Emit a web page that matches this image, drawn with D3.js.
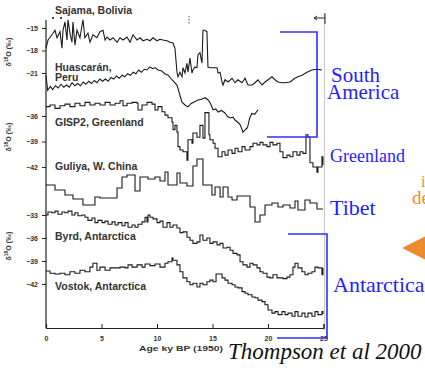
<!DOCTYPE html>
<html>
<head>
<meta charset="utf-8">
<script src="https://cdn.jsdelivr.net/npm/d3@7"></script>
<style>
  body { margin: 0; background: #fff; }
  svg { display: block; }
  .tick text { font-family: "Liberation Sans", Arial, sans-serif; font-weight: bold; font-size: 7px; fill: #333; }
  .lbl { font-family: "Liberation Sans", Arial, sans-serif; font-weight: bold; font-size: 10.5px; fill: #333; }
  .note { font-family: "Liberation Serif", "Times New Roman", serif; fill: #1f1fff; }
</style>
</head>
<body>
<script>
// age (ky BP) / d18O (permil) pairs
var sajama = [[0,-17.7],[0.18,-16.6],[0.54,-15.9],[0.81,-15.3],[0.99,-16.3],[1.26,-15.5],[1.44,-17.7],[1.53,-15.3],
  [1.71,-14.2],[1.89,-16.6],[1.98,-13.9],[2.16,-15.7],[2.34,-16.9],[2.43,-14.2],[2.61,-17.3],[2.79,-15.3],[3.06,-16.3],
  [3.33,-13.9],[3.51,-16.3],[3.78,-15.7],[3.96,-16.9],[4.23,-15.9],[4.59,-16.3],[4.86,-15.5],[5.14,-15.3],[5.32,-16.6],
  [5.5,-16.2],[5.77,-16.6],[6.04,-16.3],[6.4,-16.9],[6.67,-16.3],[6.94,-16.6],[7.3,-16.2],[7.57,-16.9],[7.84,-15.9],
  [8.2,-16.6],[8.47,-16.3],[8.74,-16.7],[9.1,-16.5],[9.37,-16.7],[9.64,-16.3],[10.0,-16.7],[10.27,-16.5],[10.54,-16.6],
  [10.9,-16.7],[11.17,-16.9],[11.44,-17.0],[11.62,-17.7],[11.8,-20.9],[11.89,-21.5],[12.07,-20.9],[12.25,-21.5],
  [12.34,-20.3],[12.52,-21.0],[12.7,-19.7],[12.79,-20.9],[12.97,-19.0],[13.15,-21.0],[13.24,-20.6],[13.42,-20.2],
  [13.6,-20.3],[13.69,-18.6],[13.87,-18.3],[14.05,-19.7],[14.14,-15.3],[14.32,-15.3],[14.5,-15.5],[14.59,-20.2],
  [14.77,-20.3],[15.05,-20.3],[15.41,-20.3],[15.5,-21.0],[15.68,-20.9],[15.86,-22.2],[15.95,-22.6],[16.13,-21.9],
  [16.4,-22.2],[16.76,-21.7],[17.03,-22.3],[17.3,-21.9],[17.66,-22.3],[17.93,-21.7],[18.2,-22.6],[18.56,-22.6],
  [18.83,-22.3],[19.1,-21.9],[19.46,-22.6],[19.73,-22.2],[20.0,-21.9],[20.36,-21.5],[20.63,-21.9],[20.9,-22.2],
  [21.26,-22.3],[21.53,-22.3],[21.98,-22.2],[22.43,-21.7],[22.7,-21.5],[23.06,-21.3],[23.51,-20.9],[23.96,-20.6],
  [24.41,-20.5],[24.86,-20.6]];

var huascaran = [[0,-21.3],[0.15,-23.3],[0.4,-22.8],[0.6,-23.2],[0.85,-22.7],[1.1,-23.0],[1.35,-22.5],[1.6,-22.9],
  [1.85,-22.6],[2.1,-22.9],[2.35,-22.3],[2.6,-22.7],[2.85,-22.4],[3.1,-22.7],[3.35,-22.2],[3.6,-22.5],[3.85,-22.1],
  [4.1,-22.4],[4.35,-22.0],[4.6,-22.3],[4.85,-21.8],[5.1,-22.1],[5.35,-21.8],[5.6,-22.1],[5.85,-21.6],[6.1,-21.8],
  [6.35,-21.4],[6.6,-21.7],[6.85,-21.3],[7.1,-21.5],[7.35,-21.1],[7.6,-21.3],[7.85,-20.9],[8.1,-21.1],[8.35,-20.6],
  [8.6,-20.9],[8.85,-20.5],[9.1,-20.6],[9.35,-20.2],[9.6,-20.4],[9.85,-20.3],[10.1,-20.6],[10.4,-20.7],[10.7,-21.1],
  [11.0,-21.3],[11.35,-21.9],[11.8,-22.6],[12.25,-24.9],[12.55,-25.3],[12.8,-25.5],[13.05,-25.1],[13.3,-24.9],
  [13.7,-24.6],[14.0,-24.5],[14.35,-24.3],[14.6,-24.6],[14.8,-25.0],[15.05,-25.9],[15.3,-25.8],[15.5,-26.2],
  [15.8,-26.0],[16.1,-26.3],[16.35,-26.8],[16.6,-27.0],[16.85,-26.9],[17.05,-27.3],[17.3,-27.6],[17.5,-27.9],
  [17.75,-28.9],[18.0,-28.5],[18.15,-28.3],[18.35,-27.0],[18.55,-26.4],[18.8,-26.5],[19.1,-25.9]];

var gisp2 = [[0,-34.9],[0.36,-34.7],[0.81,-35.1],[1.26,-34.8],[1.71,-34.6],[2.16,-34.9],[2.61,-34.5],[3.06,-34.8],
  [3.51,-34.4],[3.96,-34.7],[4.41,-34.5],[4.86,-34.7],[5.32,-34.4],[5.77,-34.7],[6.22,-34.5],[6.67,-34.2],[6.94,-34.8],
  [7.3,-34.5],[7.75,-34.4],[8.2,-34.5],[8.29,-35.3],[8.65,-34.7],[9.1,-34.4],[9.55,-34.6],[9.82,-35.3],[10.09,-34.9],
  [10.45,-35.5],[10.72,-35.9],[10.99,-36.2],[11.35,-36.7],[11.44,-37.6],[11.62,-37.1],[11.8,-37.9],[11.89,-39.6],
  [12.07,-40.0],[12.34,-40.2],[12.7,-41.2],[12.79,-38.8],[13.15,-39.2],[13.24,-38.0],[13.6,-38.5],[13.87,-37.1],
  [14.14,-38.6],[14.32,-35.6],[14.5,-35.6],[14.68,-38.2],[14.77,-38.8],[15.05,-39.2],[15.23,-39.8],[15.5,-40.8],
  [15.86,-40.2],[16.13,-40.6],[16.4,-40.0],[16.76,-40.4],[17.03,-39.8],[17.3,-40.2],[17.66,-39.6],[17.93,-40.0],
  [18.38,-39.6],[18.65,-39.2],[19.01,-39.4],[19.28,-39.1],[19.55,-39.4],[19.91,-39.6],[20.18,-39.1],[20.45,-39.4],
  [20.81,-39.2],[21.08,-40.2],[21.35,-40.9],[21.71,-40.6],[21.98,-40.8],[22.25,-40.2],[22.61,-40.6],[22.88,-40.2],
  [23.15,-40.4],[23.42,-38.2],[23.6,-38.5],[23.78,-41.5],[24.05,-42.0],[24.41,-42.6],[24.5,-42.0],[24.86,-40.8],
  [24.95,-41.8]];

var guliya = [[0,-13.0],[0.81,-13.5],[1.71,-14.0],[2.43,-14.4],[3.33,-15.0],[4.41,-14.2],[4.86,-14.3],[6.4,-13.3],
  [6.85,-12.2],[7.3,-12.0],[8.02,-13.6],[8.47,-12.2],[9.19,-12.4],[9.82,-12.2],[10.27,-12.6],[10.72,-11.7],
  [10.99,-13.0],[11.8,-11.8],[12.07,-12.8],[12.7,-13.1],[13.24,-11.1],[13.6,-10.4],[14.14,-13.0],[14.95,-14.0],
  [15.23,-13.2],[15.68,-14.2],[15.95,-13.2],[16.4,-14.2],[16.76,-14.5],[17.21,-14.1],[18.38,-15.2],[18.83,-16.7],
  [19.28,-16.0],[19.73,-15.0],[20.36,-14.8],[20.9,-15.2],[21.35,-15.0],[21.98,-15.3],[22.43,-14.6],[22.7,-15.5],
  [23.33,-14.5],[23.78,-14.8],[24.41,-15.4],[24.95,-15.4]];

var byrd = [[0,-33.0],[0.18,-32.6],[0.54,-32.7],[0.81,-32.5],[1.08,-32.9],[1.44,-32.6],[1.71,-32.7],[1.98,-32.5],
  [2.34,-33.0],[2.61,-32.7],[2.88,-33.1],[3.24,-33.0],[3.51,-33.3],[3.78,-33.7],[4.14,-33.4],[4.41,-34.0],[4.68,-33.7],
  [5.05,-34.0],[5.32,-33.8],[5.59,-34.2],[5.95,-33.9],[6.22,-34.3],[6.49,-34.0],[6.85,-34.4],[7.12,-34.0],[7.39,-34.6],
  [7.75,-34.3],[8.02,-34.6],[8.29,-34.2],[8.65,-33.9],[8.92,-33.3],[9.1,-33.9],[9.19,-33.0],[9.37,-33.3],[9.64,-33.5],
  [10.0,-34.0],[10.27,-33.8],[10.54,-34.6],[10.9,-34.0],[11.17,-34.6],[11.44,-34.3],[11.8,-34.7],[12.07,-35.3],
  [12.34,-35.2],[12.7,-35.9],[12.97,-36.3],[13.24,-36.7],[13.6,-36.5],[13.87,-35.6],[14.14,-36.3],[14.5,-36.0],
  [14.77,-36.7],[15.05,-36.5],[15.41,-36.9],[15.68,-36.7],[15.95,-37.3],[16.31,-37.2],[16.58,-37.6],[16.85,-38.0],
  [17.21,-38.2],[17.48,-39.1],[17.75,-39.5],[18.11,-39.8],[18.38,-39.3],[18.65,-39.5],[19.01,-39.9],[19.28,-40.4],
  [19.55,-40.6],[19.91,-41.1],[20.18,-41.2],[20.45,-40.8],[20.81,-41.2],[21.08,-41.2],[21.35,-41.3],[21.71,-41.1],
  [21.98,-40.8],[22.25,-39.8],[22.43,-39.3],[22.7,-39.9],[23.06,-40.4],[23.33,-40.8],[23.6,-40.6],[23.96,-40.4],
  [24.23,-39.8],[24.5,-39.9],[24.86,-40.8],[24.95,-39.9]];

var vostok = [[0,-40.3],[0.36,-40.6],[0.81,-40.7],[1.26,-40.6],[1.71,-40.8],[2.16,-40.4],[2.61,-40.6],[3.06,-40.2],
  [3.51,-40.4],[3.96,-39.8],[4.23,-39.3],[4.59,-40.2],[4.86,-39.8],[5.32,-40.2],[5.77,-39.9],[6.22,-39.9],[6.67,-39.8],
  [7.12,-39.9],[7.39,-39.5],[7.75,-39.8],[8.2,-39.5],[8.65,-39.8],[8.92,-39.4],[9.37,-39.6],[9.82,-39.4],[10.27,-39.8],
  [10.72,-39.3],[10.99,-39.1],[11.35,-38.6],[11.44,-38.9],[11.8,-39.5],[12.07,-40.4],[12.34,-41.2],[12.7,-41.7],
  [12.97,-42.1],[13.24,-41.9],[13.6,-42.4],[13.87,-41.9],[14.14,-42.1],[14.5,-41.7],[14.77,-41.5],[15.05,-41.7],
  [15.32,-40.7],[15.5,-40.7],[15.86,-41.2],[16.13,-41.5],[16.4,-41.9],[16.76,-42.1],[17.03,-42.4],[17.3,-42.5],
  [17.66,-43.0],[17.93,-43.2],[18.2,-43.4],[18.56,-43.7],[18.83,-43.8],[19.1,-44.1],[19.46,-44.3],[19.73,-44.7],
  [20.0,-45.4],[20.36,-45.8],[20.63,-45.6],[20.9,-46.0],[21.26,-45.6],[21.53,-46.0],[21.8,-45.8],[22.16,-46.2],
  [22.43,-45.6],[22.7,-46.2],[23.06,-45.8],[23.33,-46.3],[23.6,-45.8],[23.96,-46.2],[24.23,-45.6],[24.5,-46.0],
  [24.86,-45.6],[24.95,-45.9]];

var xTicks = [0, 5, 10, 15, 20, 25];
var tickA = [-15, -18, -21];
var tickB = [-36, -39, -42];
var tickC = [-33, -36, -39, -42];

var svg = d3.select("body").append("svg")
    .attr("width", 425)
    .attr("height", 370)

var x  = d3.scaleLinear().domain([0, 25]).range([46, 323.5])
var yA = d3.scaleLinear().domain([-15, -21]).range([28, 73])
var yB = d3.scaleLinear().domain([-36, -42]).range([116, 167])
var yG = d3.scaleLinear().domain([-10, -16]).range([155, 215])
var yC = d3.scaleLinear().domain([-33, -42]).range([215, 284])

// faint right edge of the scanned frame
svg.append("line")
    .attr("x1", 324.5).attr("x2", 324.5).attr("y1", 14).attr("y2", 330)
    .style("stroke", "#c8c8c8").style("stroke-width", 1)

// left axis line
svg.append("line")
    .attr("x1", x(0)).attr("x2", x(0)).attr("y1", 20).attr("y2", 328)
    .style("stroke", "#222").style("stroke-width", 1.2)

function yAxis(scale, major, lo, hi) {
    var g = svg.append("g").attr("transform", "translate(" + x(0) + ",0)")
    g.call(d3.axisLeft(scale).tickValues(d3.range(lo, hi - 1, -1)).tickSize(3).tickFormat(""))
    g.call(d3.axisLeft(scale).tickValues(major).tickSize(4).tickPadding(4).tickFormat(d3.format("d")))
    g.selectAll(".domain").remove()
    g.selectAll("line").style("stroke", "#222")
}
yAxis(yA, tickA, -14, -22)
yAxis(yB, tickB, -34, -43)
yAxis(yC, tickC, -32, -42)

// bottom axis, ticks pointing up
var gx = svg.append("g").attr("transform", "translate(0,328)")
gx.call(d3.axisBottom(x).tickValues(d3.range(0, 26)).tickSize(-2.5).tickFormat(""))
gx.call(d3.axisBottom(x).tickValues(xTicks).tickSize(-4).tickPadding(8).tickFormat(d3.format("d")))
gx.selectAll(".domain").style("stroke", "#222").style("stroke-width", 1.2)
gx.selectAll("line").style("stroke", "#222")

svg.append("text").attr("class", "lbl")
    .attr("x", 181).attr("y", 351).attr("text-anchor", "middle")
    .style("font-size", "8px")
    .attr("textLength", 84).attr("lengthAdjust", "spacingAndGlyphs")
    .text("Age ky BP (1950)")

// y titles
;[52, 137, 246].forEach(function(cy) {
    var t = svg.append("text").attr("class", "lbl")
        .attr("transform", "translate(11," + cy + ") rotate(-90)")
        .attr("text-anchor", "middle").style("font-size", "7px")
    t.append("tspan").text("\u03b4")
    t.append("tspan").attr("dy", -3).style("font-size", "5px").text("18")
    t.append("tspan").attr("dy", 3).text("O (\u2030)")
})

// records
var series = [
    {data: sajama,    y: yA, curve: d3.curveLinear},
    {data: huascaran, y: yA, curve: d3.curveLinear},
    {data: gisp2,     y: yB, curve: d3.curveStepAfter},
    {data: guliya,    y: yG, curve: d3.curveStepAfter},
    {data: byrd,      y: yC, curve: d3.curveStepAfter},
    {data: vostok,    y: yC, curve: d3.curveStepAfter}
]
series.forEach(function(s) {
    var line = d3.line()
        .x(function(d) { return x(d[0]) })
        .y(function(d) { return s.y(d[1]) })
        .curve(s.curve)
    svg.append("path")
        .attr("d", line(s.data))
        .style("fill", "none")
        .style("stroke", "#1b1b1b")
        .style("stroke-width", 1.1)
})

// site labels
var labels = [["Sajama, Bolivia", 14], ["Huascar\u00e1n,", 71], ["Peru", 81], ["GISP2, Greenland", 126],
              ["Guliya, W. China", 170], ["Byrd, Antarctica", 239.5], ["Vostok, Antarctica", 290]]
labels.forEach(function(l) {
    svg.append("text").attr("class", "lbl").attr("x", 55).attr("y", l[1]).text(l[0])
})

// small marks at top
svg.selectAll(".dot").data([53, 61]).enter().append("circle")
    .attr("cx", function(d) { return d }).attr("cy", 18).attr("r", 1.1).style("fill", "#222")
svg.append("line").attr("x1", 189).attr("x2", 189).attr("y1", 16).attr("y2", 24)
    .style("stroke", "#555").style("stroke-dasharray", "1.5,1.5")
svg.append("path").attr("d", "M314,18H325M325,13V24M314,18l3,-2M314,18l3,2")
    .style("stroke", "#222").style("fill", "none").style("stroke-width", 1)

// blue brackets
svg.append("path").attr("d", "M280,32H317V137H267")
    .style("fill", "none").style("stroke", "#2f2fff").style("stroke-width", 1.6)
svg.append("path").attr("d", "M288,234H327V338H277")
    .style("fill", "none").style("stroke", "#2f2fff").style("stroke-width", 1.6)

// region notes
var notes = [["South", 331, 82, 21], ["America", 327, 99, 21], ["Greenland", 330, 162, 18],
             ["Tibet", 330, 215, 22], ["Antarctica", 333, 292, 22]]
notes.forEach(function(n) {
    svg.append("text").attr("class", "note")
        .attr("x", n[1]).attr("y", n[2]).style("font-size", n[3] + "px").text(n[0])
})

// orange annotation, mostly cut off
svg.append("text").attr("x", 421).attr("y", 187)
    .style("font-family", "Liberation Serif, serif").style("font-size", "16px").style("fill", "#ee8a2e").text("i")
svg.append("text").attr("x", 412).attr("y", 204)
    .style("font-family", "Liberation Serif, serif").style("font-size", "19px").style("fill", "#ee8a2e").text("de")
svg.append("path").attr("d", "M402,248L426,236V260Z").style("fill", "#ee8a2e")

svg.append("text").attr("x", 228).attr("y", 359)
    .style("font-family", "Liberation Serif, serif").style("font-style", "italic")
    .style("font-size", "23px").style("fill", "#111")
    .text("Thompson et al 2000")
</script>
</body>
</html>
